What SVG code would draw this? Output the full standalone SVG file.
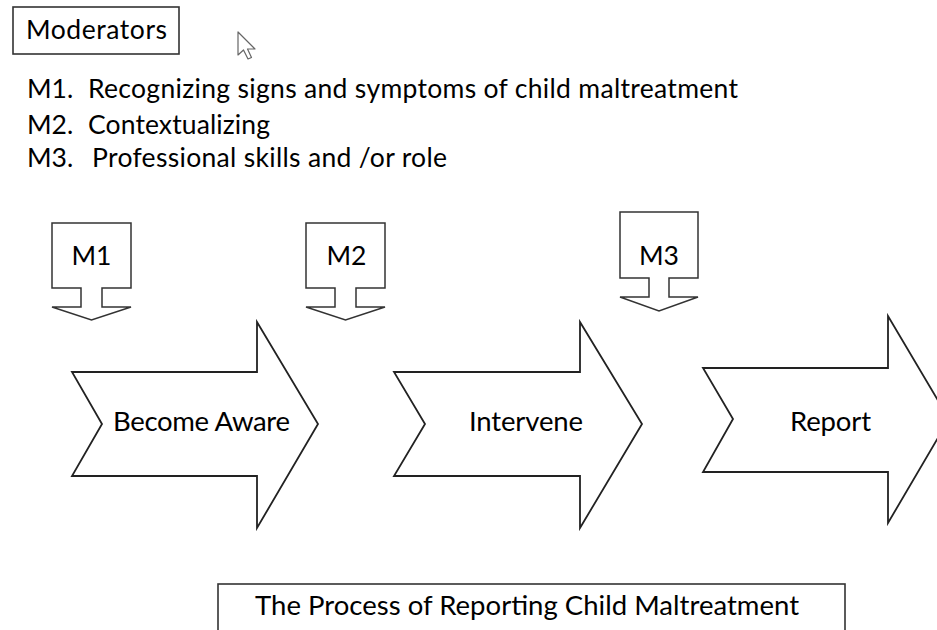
<svg xmlns="http://www.w3.org/2000/svg" width="937" height="630" viewBox="0 0 937 630">
<style>
text{font-family:Lato,"Open Sans","Liberation Sans",sans-serif;fill:#000;}
.t25{font-size:26.5px;}
.t26{font-size:27.5px;}
.box{fill:#fff;stroke:#333;stroke-width:1.6;}
.arr{fill:#fff;stroke:#222;stroke-width:1.8;stroke-linejoin:miter;}
.call{fill:#fff;stroke:#333;stroke-width:1.5;stroke-linejoin:miter;}
</style>
<rect width="937" height="630" fill="#fff"/>
<g id="moderators">
<rect class="box" x="13" y="7" width="166" height="47"/>
<text class="t25" x="26" y="39" textLength="141">Moderators</text>
</g>
<path id="cursor" d="M238,32 L238,55 L243.5,50 L248,59 L251.5,57.5 L247.5,49 L255,49 Z" fill="#fff" stroke="#666" stroke-width="1.2" stroke-linejoin="round"/>
<g id="legend">
<text class="t25" x="27" y="98">M1.</text>
<text class="t25" x="88" y="98" textLength="650">Recognizing signs and symptoms of child maltreatment</text>
<text class="t25" x="27" y="134">M2.</text>
<text class="t25" x="88" y="134" textLength="182">Contextualizing</text>
<text class="t25" x="27" y="167">M3.</text>
<text class="t25" x="92" y="167" textLength="355">Professional skills and /or role</text>
</g>
<g id="m1">
<path class="call" d="M52,223 H131 V288 H102 V307 H131 L91.5,320 L52,307 H81 V288 H52 Z"/>
<text class="t25" x="91.5" y="265" text-anchor="middle">M1</text>
</g>
<g id="m2">
<path class="call" d="M306,223 H385 V288 H356 V307 H385 L345.5,320 L306,307 H335 V288 H306 Z"/>
<text class="t25" x="346.5" y="265" text-anchor="middle">M2</text>
</g>
<g id="m3">
<path class="call" d="M620,212 H698 V278 H669 V297 H698 L659,311 L620,297 H649 V278 H620 Z"/>
<text class="t25" x="659" y="265" text-anchor="middle">M3</text>
</g>
<g id="become-aware">
<path class="arr" d="M72,372 H257 V322 L318,424 L257,528 V476 H72 L102,424 Z"/>
<text class="t26" x="113" y="431" textLength="177">Become Aware</text>
</g>
<g id="intervene">
<path class="arr" d="M394,372 H580 V322 L642,424 L580,528 V476 H394 L425,424 Z"/>
<text class="t26" x="469" y="431" textLength="114">Intervene</text>
</g>
<g id="report">
<path class="arr" d="M703,368 H888 V316 L949,419 L888,523 V472 H703 L733,419 Z"/>
<text class="t26" x="790" y="431" textLength="81">Report</text>
</g>
<g id="connectors"></g>
<g id="title">
<rect class="box" x="218" y="584" width="627" height="60"/>
<text class="t26" x="255" y="615" textLength="544">The Process of Reporting Child Maltreatment</text>
</g>
</svg>
